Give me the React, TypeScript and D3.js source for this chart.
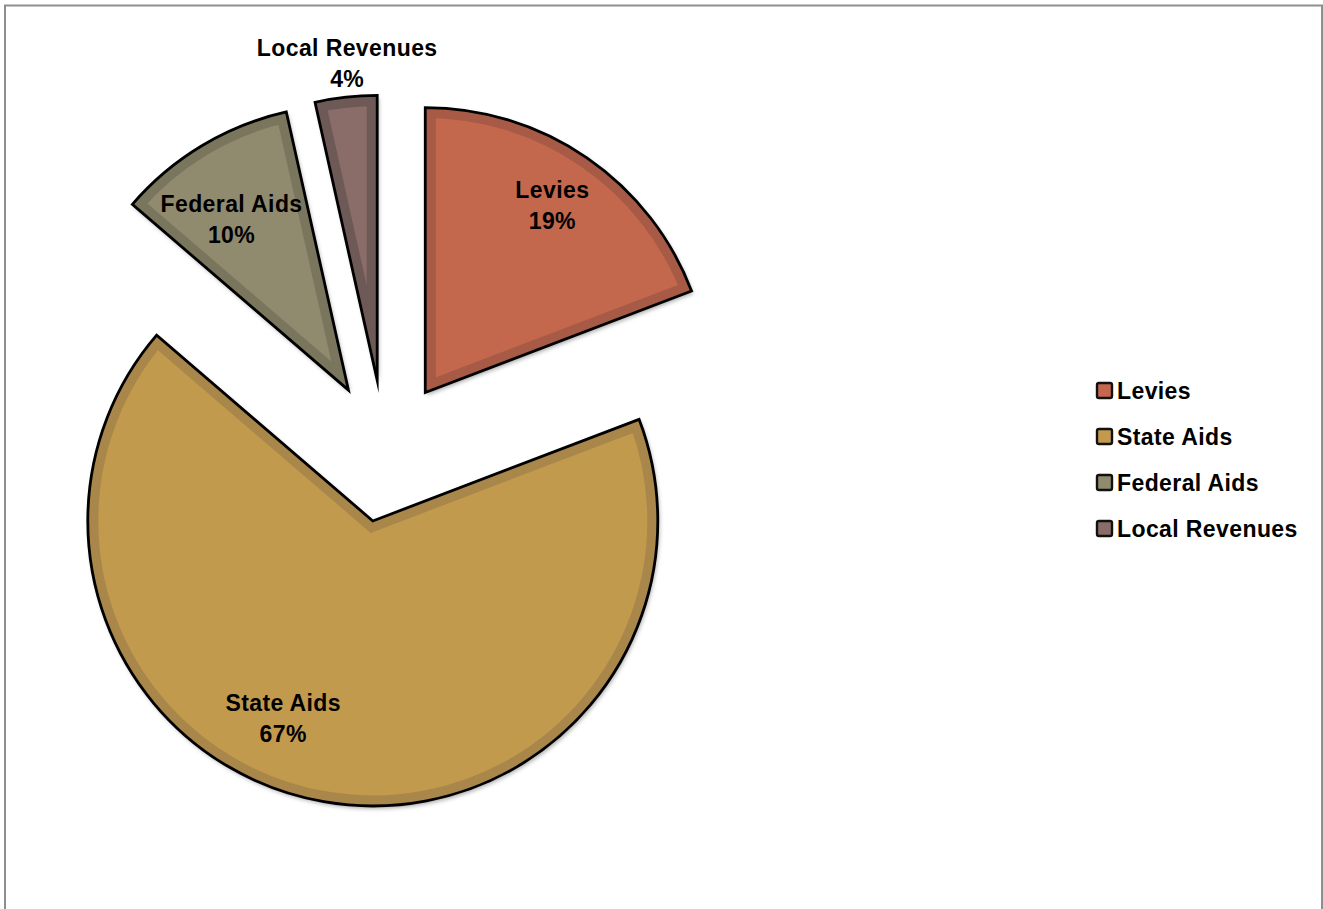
import React from "react";
import * as d3 from "d3";

const categories = ["Levies", "State Aids", "Federal Aids", "Local Revenues"];
const values = [19.2, 67.1, 10.2, 3.5];
const fillColors = ["#C4674E", "#C29A4E", "#908A6E", "#8A6C68"];
const bandColors = ["#A75A45", "#A9864A", "#7A765E", "#6D5956"];
// label placement: [radius fraction, angle shift in degrees]
const labelPlacement: [number, number][] = [
  [0.794, -0.4],
  [0.758, 14.6],
  [0.727, -3.4],
  [1.12, 0.9],
];

const W = 1323;
const H = 909;
const cx = 385;
const cy = 451;
const R = 285;
const explode = 71;
const FONT = "'Liberation Sans', Arial, sans-serif";
const FS = 23;
const LS = 0.4;

export default function App() {
  const pie = d3.pie<number>().sort(null).startAngle(0).endAngle(2 * Math.PI);
  const arcs = pie(values);
  const arcGen = d3.arc<d3.PieArcDatum<number>>().innerRadius(0).outerRadius(R);
  const total = d3.sum(values);

  return (
    <div style={{ position: "absolute", left: 0, top: 0 }}>
      <svg width={W} height={H} style={{ display: "block", background: "#fff" }}>
        <defs>
          <filter id="shadow" x="-20%" y="-20%" width="140%" height="140%">
            <feDropShadow dx="1.5" dy="2.5" stdDeviation="2" floodColor="#000" floodOpacity="0.35" />
          </filter>
          {arcs.map((a, i) => (
            <clipPath id={`clip${i}`} key={i}>
              <path d={arcGen(a) || ""} />
            </clipPath>
          ))}
        </defs>
        <rect x={5} y={5.5} width={1317} height={H + 20} fill="none" stroke="#8e8e8e" strokeWidth={2} />
        {arcs.map((a, i) => {
          const mid = (a.startAngle + a.endAngle) / 2;
          const ox = cx + explode * Math.sin(mid);
          const oy = cy - explode * Math.cos(mid);
          const d = arcGen(a) || "";
          return (
            <g key={i} transform={`translate(${ox},${oy})`}>
              <path d={d} fill={fillColors[i]} filter="url(#shadow)" />
              <path d={d} fill="none" stroke={bandColors[i]} strokeWidth={21} clipPath={`url(#clip${i})`} strokeLinejoin="miter" />
              <path d={d} fill="none" stroke="#000" strokeWidth={2.8} strokeLinejoin="miter" strokeMiterlimit={10} />
            </g>
          );
        })}
        {arcs.map((a, i) => {
          const mid = (a.startAngle + a.endAngle) / 2;
          const ox = cx + explode * Math.sin(mid);
          const oy = cy - explode * Math.cos(mid);
          const [frac, shift] = labelPlacement[i];
          const ang = mid + (shift * Math.PI) / 180;
          const lx = ox + frac * R * Math.sin(ang);
          const ly = oy - frac * R * Math.cos(ang);
          const pct = Math.round((values[i] / total) * 100) + "%";
          return (
            <text key={i} x={lx} y={ly} textAnchor="middle" fontFamily={FONT} fontWeight="bold" fontSize={FS} letterSpacing={LS} fill="#000">
              <tspan x={lx} dy={-7}>{categories[i]}</tspan>
              <tspan x={lx} dy={31}>{pct}</tspan>
            </text>
          );
        })}
        {categories.map((c, i) => {
          const y = 391 + i * 46;
          return (
            <g key={c}>
              <rect x={1097} y={y - 8} width={15} height={15} rx={2} fill={fillColors[i]} stroke="#111" strokeWidth={2.4} />
              <text x={1117} y={y + 8} fontFamily={FONT} fontWeight="bold" fontSize={FS} letterSpacing={LS} fill="#000">{c}</text>
            </g>
          );
        })}
      </svg>
    </div>
  );
}
